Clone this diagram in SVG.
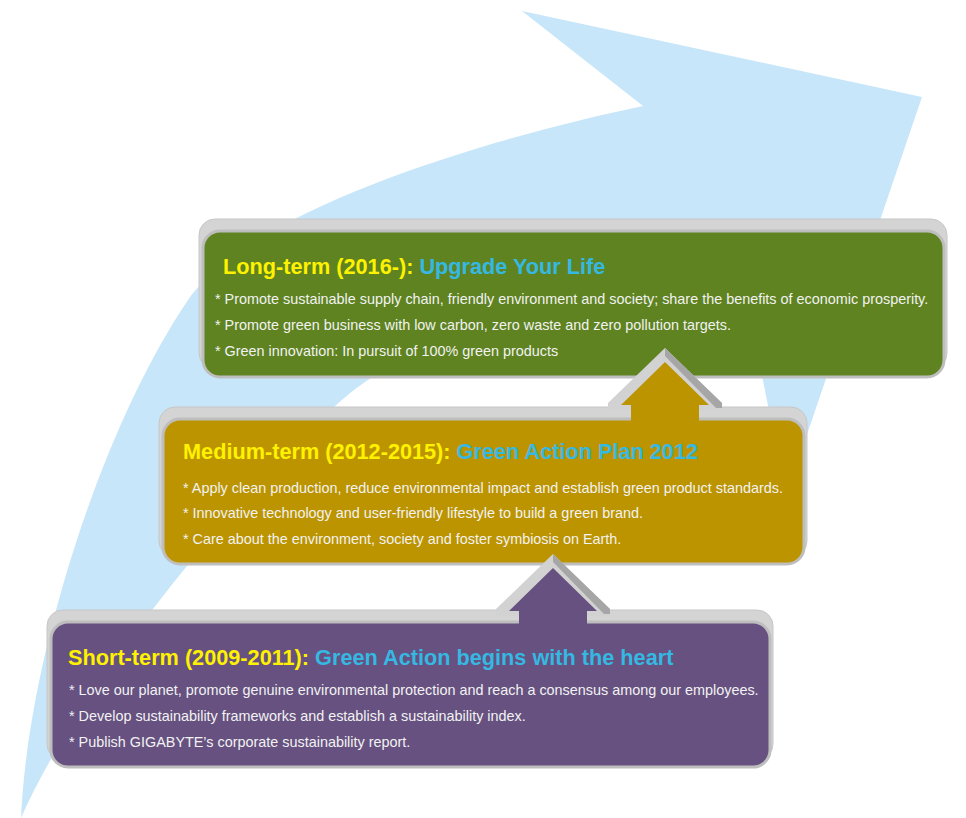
<svg xmlns="http://www.w3.org/2000/svg" width="966" height="818" viewBox="0 0 966 818">
<style>
.back{fill:#D4D4D4;stroke:#C6C6C6;stroke-width:1}
.front{stroke:#BEBEBE;stroke-width:3}
.t{font-family:"Liberation Sans",Arial,sans-serif;font-weight:bold;font-size:21.7px}
.y{fill:#FFF200}
.c{fill:#35B8E2}
.b{font-family:"Liberation Sans",Arial,sans-serif;font-size:14.4px;fill:#F2F2F2}
.lt{fill:#D2D2D2}
.dk{fill:#A6A6A6}
</style>
<rect width="966" height="818" fill="#FFFFFF"/>
<path id="bigArrow" d="M21,818 C28,660 100,430 188,300 C248,212 480,140 643,106 L522,11 L922,97 L786,496 L741,270 Q560,253 365,382 C300,425 90,660 21,818 Z" fill="#C8E6F9"/>

<g id="long">
<rect class="back" x="199" y="219" width="748" height="150" rx="16"/>
<rect class="front" x="203" y="231" width="741" height="146" rx="17" fill="#5E8320"/>
<text class="t" x="223" y="274"><tspan class="y">Long-term (2016-): </tspan><tspan class="c">Upgrade Your Life</tspan></text>
<text class="b" x="215" y="304">* Promote sustainable supply chain, friendly environment and society; share the benefits of economic prosperity.</text>
<text class="b" x="215" y="330">* Promote green business with low carbon, zero waste and zero pollution targets.</text>
<text class="b" x="215" y="356">* Green innovation: In pursuit of 100% green products</text>
</g>

<g id="medium">
<rect class="back" x="159" y="407" width="648" height="150" rx="16"/>
<rect class="front" x="163" y="419" width="641" height="145" rx="17" fill="#BC9400"/>
<text class="t" x="183" y="459"><tspan class="y">Medium-term (2012-2015): </tspan><tspan class="c">Green Action Plan 2012</tspan></text>
<text class="b" x="183" y="493">* Apply clean production, reduce environmental impact and establish green product standards.</text>
<text class="b" x="183" y="518">* Innovative technology and user-friendly lifestyle to build a green brand.</text>
<text class="b" x="183" y="544">* Care about the environment, society and foster symbiosis on Earth.</text>
</g>

<g id="short">
<rect class="back" x="47" y="610" width="726" height="150" rx="16"/>
<rect class="front" x="51" y="622" width="719" height="145" rx="17" fill="#665180"/>
<text class="t" x="68" y="665"><tspan class="y">Short-term (2009-2011): </tspan><tspan class="c">Green Action begins with the heart</tspan></text>
<text class="b" x="69" y="695">* Love our planet, promote genuine environmental protection and reach a consensus among our employees.</text>
<text class="b" x="69" y="721">* Develop sustainability frameworks and establish a sustainability index.</text>
<text class="b" x="69" y="747">* Publish GIGABYTE’s corporate sustainability report.</text>
</g>

<g id="connectors">
<g transform="translate(665,405)">
<polygon class="lt" points="0,-57 57,-2 57,5 -57,5 -57,-2"/>
<polygon class="dk" points="0,-57 57,-2 57,3 51,3 0,-49"/>
<polygon fill="#BC9400" points="0,-43 44,0 34,0 34,18 -34,18 -34,0 -44,0"/>
</g>
<g transform="translate(553,611)">
<polygon class="lt" points="0,-57 57,-2 57,5 -57,5 -57,-2"/>
<polygon class="dk" points="0,-57 57,-2 57,3 51,3 0,-49"/>
<polygon fill="#665180" points="0,-43 44,0 34,0 34,18 -34,18 -34,0 -44,0"/>
</g>
</g>
</svg>
